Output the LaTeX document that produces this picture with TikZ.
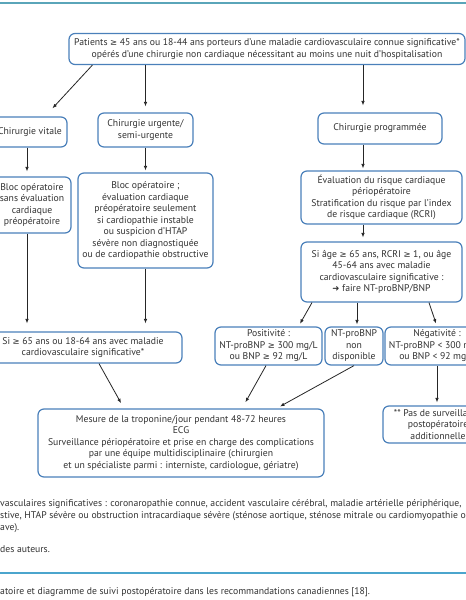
\documentclass[tikz,border=0pt]{standalone}
\usepackage{fontspec}
\setmainfont{PT Sans}
\newfontfamily\symfont{DejaVu Sans}
\newcommand\myge{{\symfont\fontsize{8.5}{10}\selectfont\char"2265}}
\newcommand\myarr{{\symfont\fontsize{8.5}{10}\selectfont\char"279C}}
\usetikzlibrary{arrows.meta}
\definecolor{boxblue}{RGB}{74,128,186}
\definecolor{txt}{RGB}{50,50,50}
\definecolor{topline}{RGB}{90,165,185}
\definecolor{botline}{RGB}{75,165,205}
\tikzset{
 box/.style={draw=boxblue, line width=1.2pt, rounded corners=6pt, align=center, inner sep=0pt, text=txt, font=\fontsize{9.7}{11.5}\selectfont},
 arr/.style={-{Latex[length=4.5pt,width=3.5pt]}, line width=0.8pt, black!85},
 note/.style={anchor=west, inner sep=0pt, text=txt, font=\fontsize{9.7}{11.5}\selectfont},
}
\begin{document}
\begin{tikzpicture}[x=1pt,y=-1pt]
\useasboundingbox (0,0) rectangle (466,600);
\clip (0,0) rectangle (466,600);
\fill[white] (0,0) rectangle (466,600);
\draw[topline, line width=1.5pt] (0,3) -- (466,3);

\node[box, minimum width=396pt, minimum height=31pt] (top) at (267,49) {Patients \myge{} 45 ans ou 18-44 ans porteurs d'une maladie cardiovasculaire connue significative*\\opérés d'une chirurgie non cardiaque nécessitant au moins une nuit d'hospitalisation};
\node[box, minimum width=74pt, minimum height=30pt] (vitale) at (30,132) {Chirurgie vitale};
\node[box, minimum width=95pt, minimum height=34pt] (urg) at (145.5,130) {Chirurgie urgente/\\semi-urgente};
\node[box, minimum width=78pt, minimum height=56pt] (bloc1) at (32,205) {Bloc opératoire\\sans évaluation\\cardiaque\\préopératoire};
\node[box, minimum width=135pt, minimum height=95pt] (bloc2) at (145.5,220.5) {Bloc opératoire ;\\évaluation cardiaque\\préopératoire seulement\\si cardiopathie instable\\ou suspicion d'HTAP\\sévère non diagnostiquée\\ou de cardiopathie obstructive};
\node[box, minimum width=198pt, minimum height=31pt] (si65) at (83,347.5) {Si \myge{} 65 ans ou 18-64 ans avec maladie\\cardiovasculaire significative*};
\node[box, minimum width=286pt, minimum height=68pt] (mes) at (181,443) {Mesure de la troponine/jour pendant 48-72 heures\\ECG\\Surveillance périopératoire et prise en charge des complications\\par une équipe multidisciplinaire (chirurgien\\et un spécialiste parmi : interniste, cardiologue, gériatre)};
\node[box, minimum width=124pt, minimum height=31pt] (prog) at (380,128.5) {Chirurgie programmée};
\node[box, minimum width=161pt, minimum height=53pt] (eval) at (381.5,197.5) {Évaluation du risque cardiaque\\périopératoire\\Stratification du risque par l'index\\de risque cardiaque (RCRI)};
\node[box, minimum width=161pt, minimum height=60pt] (siage) at (381.5,272) {Si âge \myge{} 65 ans, RCRI \myge{} 1, ou âge\\45-64 ans avec maladie\\cardiovasculaire significative :\\\myarr{} faire NT-proBNP/BNP};
\node[box, minimum width=107pt, minimum height=38pt] (pos) at (268.5,346) {Positivité :\\NT-proBNP \myge{} 300 mg/L\\ou BNP \myge{} 92 mg/L};
\node[box, minimum width=58pt, minimum height=38pt] (nt) at (354,346) {NT-proBNP\\non\\disponible};
\node[box, minimum width=104pt, minimum height=38pt] (neg) at (437,346) {Négativité :\\NT-proBNP < 300 mg/L\\ou BNP < 92 mg/L};
\node[box, minimum width=110pt, minimum height=37pt] (pas) at (438,424.5) {** Pas de surveillance\\postopératoire\\additionnelle};

\coordinate (colx) at (363,0);
\coordinate (c1) at (27,0);
\coordinate (c3) at (357,0);

\draw[arr, shorten >=11pt] ([xshift=24pt]top.south west) -- ([xshift=15pt]vitale.north);
\draw[arr, shorten >=6pt] (top.south -| urg.north) -- (urg.north);
\draw[arr, shorten >=7pt] (top.south -| colx) -- (prog.north -| colx);
\draw[arr, shorten >=5pt] (vitale.south -| c1) -- (bloc1.north -| c1);
\draw[arr, shorten >=2pt] (urg.south) -- (bloc2.north);
\draw[arr, shorten >=2pt] (prog.south -| colx) -- (eval.north -| colx);
\draw[arr, shorten >=4pt] (eval.south -| colx) -- (siage.north -| colx);
\draw[arr, shorten >=8pt] (bloc1.south -| c1) -- (si65.north -| c1);
\draw[arr, shorten >=8pt] (bloc2.south) -- (bloc2.south |- si65.north);
\draw[arr, shorten >=6pt] ([xshift=16pt]si65.south) -- ([xshift=-57pt]mes.north);
\draw[arr, shorten >=3pt] ([xshift=-69.5pt]siage.south) -- ([xshift=30pt]pos.north);
\draw[arr, shorten >=2pt] (siage.south -| c3) -- (nt.north -| c3);
\draw[arr, shorten >=3pt] ([xshift=47.5pt]siage.south) -- (neg.north);
\draw[arr, shorten >=7pt] ([xshift=-2.5pt]pos.south) -- ([xshift=61pt]mes.north);
\draw[arr, shorten >=4pt] (nt.south) -- ([xshift=95.5pt]mes.north);
\draw[arr, shorten >=3pt] (neg.south) -- (neg.south |- pas.north);

\node[note] (f1) at (0,504) {vasculaires significatives : coronaropathie connue, accident vasculaire cérébral, maladie artérielle périphérique,};
\node[note] (f2) at (0,516) {stive, HTAP sévère ou obstruction intracardiaque sévère (sténose aortique, sténose mitrale ou cardiomyopathie obstructive};
\node[note] (f3) at (0,528) {ave).};
\node[note] (f4) at (0,549) {des auteurs.};
\draw[botline, line width=1.2pt] (0,573) -- (466,573);
\node[note] (cap) at (0,592) {atoire et diagramme de suivi postopératoire dans les recommandations canadiennes [18].};
\end{tikzpicture}
\end{document}
